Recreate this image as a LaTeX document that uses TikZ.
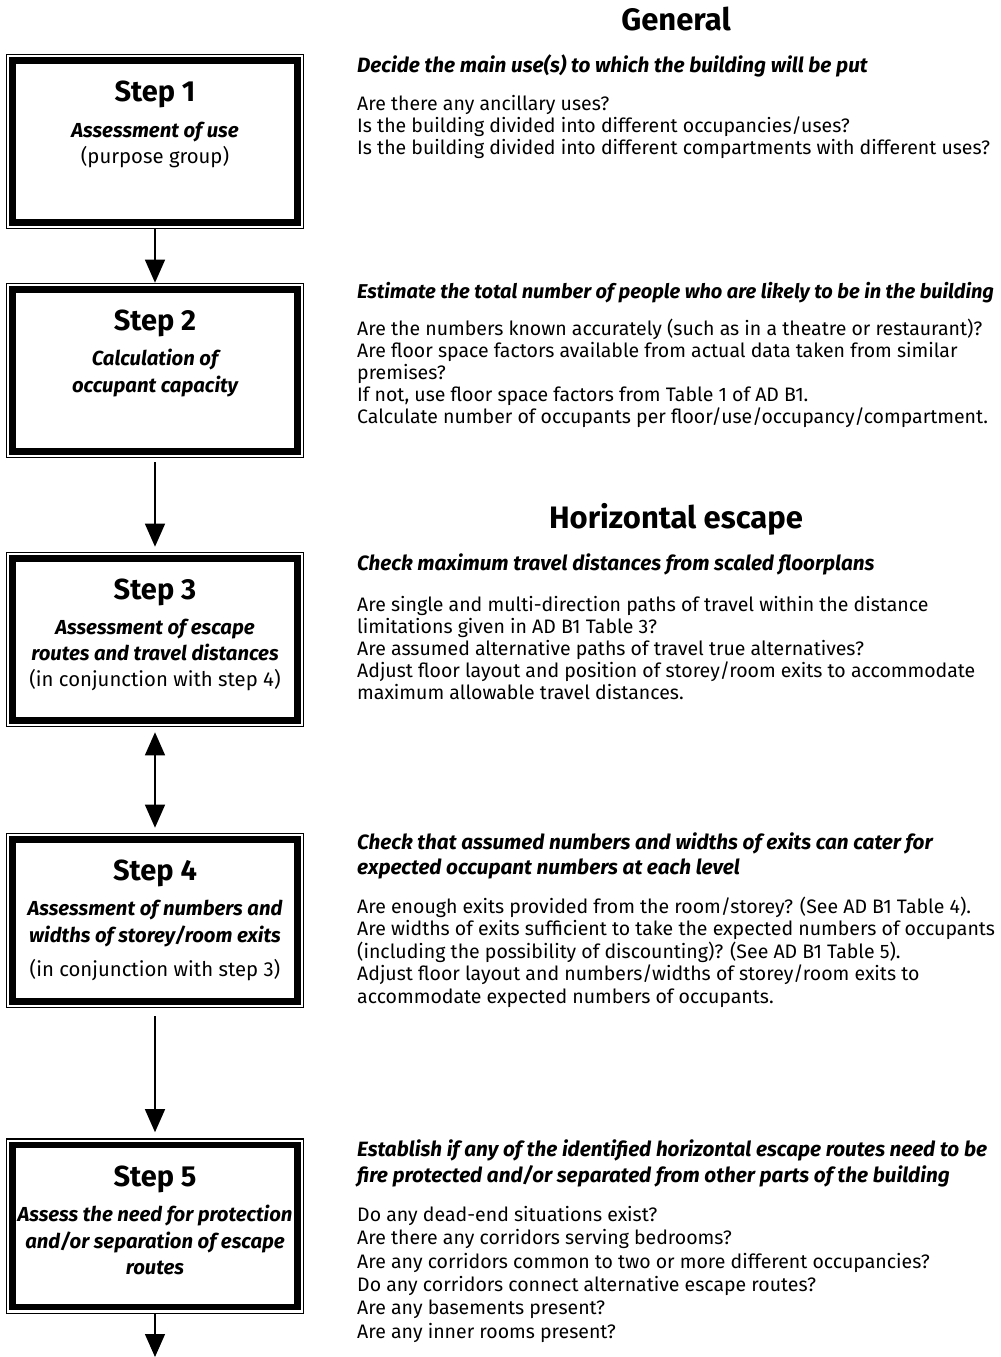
\documentclass[tikz,border=0pt]{standalone}
\usepackage{fontspec}
\setmainfont{Fira Sans}
\usepackage{tikz}
\usetikzlibrary{positioning,arrows.meta}

\begin{document}
\begin{tikzpicture}[
      x=1pt, y=-1pt,
      stepbox/.style={rectangle, draw=black, line width=6.5pt, fill=white,
                      minimum width=285pt, minimum height=162pt, outer sep=6.8pt,
                      preaction={draw=black, line width=13.6pt},
                      preaction={draw=white, line width=11pt}},
      stepnote/.style={align=center, inner sep=0pt, font=\fontsize{20.3}{26}\selectfont},
      sect/.style={anchor=base, inner sep=0pt, font=\fontsize{31}{32}\selectfont\bfseries},
      qtext/.style={anchor=north west, align=left, inner sep=0pt, font=\fontsize{19.5}{22}\selectfont},
      flow/.style={-{Triangle[width=20pt,length=23pt]}, line width=1.3pt},
    ]
    \useasboundingbox (0,0) rectangle (1001,1357);

    \node[stepbox] (s1) at (155,141.5) {};
    \node[stepbox] (s2) at (155,370.5) {};
    \node[stepbox] (s3) at (155,639.5) {};
    \node[stepbox] (s4) at (155,920.5) {};
    \node[stepbox] (s5) at (155,1226) {};

    \node[stepnote, below=27pt of s1.north] (t1) {{\fontsize{29}{30}\selectfont\bfseries Step 1}\\[10pt]
      {\bfseries\itshape Assessment of use}\\ (purpose group)};
    \node[stepnote, below=27pt of s2.north] (t2) {{\fontsize{29}{30}\selectfont\bfseries Step 2}\\[9pt]
      {\bfseries\itshape Calculation of}\\[1.5pt] {\bfseries\itshape occupant capacity}};
    \node[stepnote, below=27pt of s3.north] (t3) {{\fontsize{29}{30}\selectfont\bfseries Step 3}\\[9pt]
      {\bfseries\itshape Assessment of escape}\\ {\bfseries\itshape routes and travel distances}\\ (in conjunction with step 4)};
    \node[stepnote, below=27pt of s4.north] (t4) {{\fontsize{29}{30}\selectfont\bfseries Step 4}\\[9pt]
      {\bfseries\itshape Assessment of numbers and}\\[1pt] {\bfseries\itshape widths of storey/room exits}\\[8pt] (in conjunction with step 3)};
    \node[stepnote, below=27pt of s5.north] (t5) {{\fontsize{29}{30}\selectfont\bfseries Step 5}\\[9pt]
      {\bfseries\itshape Assess the need for protection}\\[1pt] {\bfseries\itshape and/or separation of escape}\\ {\bfseries\itshape routes}};

    \node[sect] (gen) at (676,30) {General};
    \node[sect] (hor) at (676,528) {Horizontal escape};

    \node[qtext] (q1) at (357,54) {{\fontsize{20.7}{22}\selectfont\bfseries\itshape Decide the main use(s) to which the building will be put}\\[16pt]
      Are there any ancillary uses?\\
      Is the building divided into different occupancies/uses?\\
      Is the building divided into different compartments with different uses?};
    \node[qtext] (q2) at (357,282) {{\fontsize{20}{22}\selectfont\bfseries\itshape Estimate the total number of people who are likely to be in the building}\\[15pt]
      Are the numbers known accurately (such as in a theatre or restaurant)?\\
      Are floor space factors available from actual data taken from similar\\
      premises?\\
      If not, use floor space factors from Table 1 of AD B1.\\
      Calculate number of occupants per floor/use/occupancy/compartment.};
    \node[qtext] (q3) at (357,554) {{\fontsize{20.7}{22}\selectfont\bfseries\itshape Check maximum travel distances from scaled floorplans}\\[19pt]
      Are single and multi-direction paths of travel within the distance\\
      limitations given in AD B1 Table 3?\\
      Are assumed alternative paths of travel true alternatives?\\
      Adjust floor layout and position of storey/room exits to accommodate\\
      maximum allowable travel distances.};
    \node[qtext, font=\fontsize{19.5}{22.5}\selectfont] (q4) at (357,833) {{\fontsize{20.7}{22}\selectfont\bfseries\itshape Check that assumed numbers and widths of exits can cater for}\\[2.5pt]
      {\fontsize{20.7}{22}\selectfont\bfseries\itshape expected occupant numbers at each level}\\[16pt]
      Are enough exits provided from the room/storey? (See AD B1 Table 4).\\
      Are widths of exits sufficient to take the expected numbers of occupants\\
      (including the possibility of discounting)? (See AD B1 Table 5).\\
      Adjust floor layout and numbers/widths of storey/room exits to\\
      accommodate expected numbers of occupants.};
    \node[qtext, font=\fontsize{19.5}{23.4}\selectfont] (q5) at (357,1140) {{\fontsize{20.7}{22}\selectfont\bfseries\itshape Establish if any of the identified horizontal escape routes need to be}\\[2.5pt]
      {\fontsize{20.7}{22}\selectfont\bfseries\itshape fire protected and/or separated from other parts of the building}\\[15pt]
      Do any dead-end situations exist?\\
      Are there any corridors serving bedrooms?\\
      Are any corridors common to two or more different occupancies?\\
      Do any corridors connect alternative escape routes?\\
      Are any basements present?\\
      Are any inner rooms present?};

    \coordinate (out) at (155,1357);
    \draw[flow] (s1) -- (s2);
    \draw[flow, shorten <=4pt, shorten >=5pt] (s2) -- (s3);
    \draw[flow, {Triangle[width=20pt,length=23pt]}-{Triangle[width=20pt,length=23pt]}, shorten <=5pt, shorten >=5pt] (s3) -- (s4);
    \draw[flow, shorten <=8pt, shorten >=6pt] (s4) -- (s5);
    \draw[flow] (s5) -- (out);
  \end{tikzpicture}
\end{document}
